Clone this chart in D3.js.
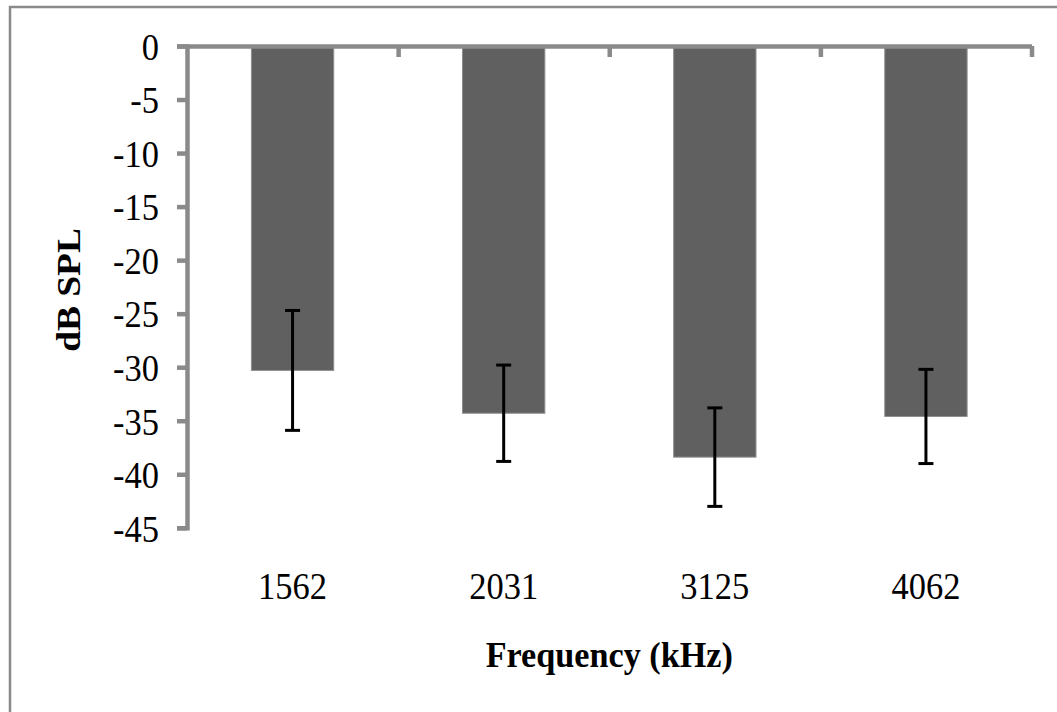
<!DOCTYPE html>
<html>
<head>
<meta charset="utf-8">
<script src="https://cdn.jsdelivr.net/npm/d3@7"></script>
<style>
  html, body { margin: 0; padding: 0; background: #ffffff; }
  svg { display: block; }
  text { font-family: "Liberation Serif", "Times New Roman", serif; fill: #000; }
</style>
</head>
<body>
<svg id="chart" width="1057" height="712"></svg>
<script>
// Mean response level per frequency (dB SPL) and error-bar half lengths
const frequencies = ["1562", "2031", "3125", "4062"];
const meanLevels  = [-30.3, -34.3, -38.4, -34.6];
const errors      = [5.6, 4.5, 4.6, 4.4];
const yTickValues = [0, -5, -10, -15, -20, -25, -30, -35, -40, -45];

const data = frequencies.map((f, i) => ({ f, v: meanLevels[i], e: errors[i] }));

const svg = d3.select("#chart");
const axisGray = "#8a8a8a";
const textStretch = "scale(1,1.12)";

// chart frame
svg.append("rect")
  .attr("x", 10).attr("y", 7)
  .attr("width", 1200).attr("height", 900)
  .attr("fill", "none")
  .attr("stroke", axisGray)
  .attr("stroke-width", 2.5);

const plotLeft = 187, plotRight = 1031.5, plotTop = 46, plotBottom = 527.8;

const y = d3.scaleLinear().domain([0, -45]).range([plotTop, plotBottom]);
const xCat = d3.scaleBand().domain(frequencies).range([plotLeft, plotRight]).padding(0);
const xBar = d3.scaleBand().domain(frequencies).range([plotLeft, plotRight])
  .paddingInner(0.61).paddingOuter(0.305);
const xEdge = d3.scaleLinear().domain([0, frequencies.length]).range([plotLeft, plotRight]);

// bars
svg.append("g").selectAll("rect")
  .data(data)
  .join("rect")
  .attr("x", d => xBar(d.f))
  .attr("width", xBar.bandwidth())
  .attr("y", y(0))
  .attr("height", d => y(d.v) - y(0))
  .attr("fill", "#606060")
  .attr("stroke", "#8e8e8e")
  .attr("stroke-width", 1);

// error bars
const eb = svg.append("g").attr("stroke", "#000");
data.forEach(d => {
  const cx = xBar(d.f) + xBar.bandwidth() / 2;
  const y1 = y(d.v + d.e), y2 = y(d.v - d.e);
  eb.append("line").attr("x1", cx).attr("x2", cx).attr("y1", y1).attr("y2", y2)
    .attr("stroke-width", 3);
  [y1, y2].forEach(yy => {
    eb.append("line").attr("x1", cx - 7.5).attr("x2", cx + 7.5)
      .attr("y1", yy).attr("y2", yy).attr("stroke-width", 3);
  });
});

// horizontal category axis along the zero line, with ticks at band edges
const xAxisG = svg.append("g")
  .attr("transform", `translate(0,${plotTop})`)
  .call(d3.axisBottom(xEdge)
    .tickValues(d3.range(1, frequencies.length + 1))
    .tickSize(11).tickSizeOuter(0).tickFormat(""));
xAxisG.selectAll("path, line").attr("stroke", axisGray).attr("stroke-width", 4.5);

// vertical value axis
const yAxisG = svg.append("g")
  .attr("transform", `translate(${plotLeft},0)`)
  .call(d3.axisLeft(y).tickValues(yTickValues)
    .tickSize(10).tickSizeOuter(10).tickFormat(d => String(d)));
yAxisG.selectAll("path, line").attr("stroke", axisGray).attr("stroke-width", 4.5);
yAxisG.selectAll("text")
  .attr("x", null).attr("dy", null)
  .attr("transform", `translate(-28,13.3) ${textStretch}`)
  .attr("font-family", "Liberation Serif")
  .attr("font-size", 34.5)
  .attr("fill", "#000");

// category labels
svg.append("g").selectAll("text")
  .data(frequencies)
  .join("text")
  .attr("transform", d => `translate(${xCat(d) + xCat.bandwidth() / 2},599.3) ${textStretch}`)
  .attr("text-anchor", "middle")
  .attr("font-size", 34.5)
  .text(d => d);

// axis titles
svg.append("text")
  .attr("transform", `translate(${(plotLeft + plotRight) / 2},666.7) scale(1,1.07)`)
  .attr("text-anchor", "middle")
  .attr("font-size", 34.2)
  .attr("font-weight", "bold")
  .text("Frequency (kHz)");

svg.append("text")
  .attr("transform", `translate(80,290) scale(1,1.1) rotate(-90)`)
  .attr("text-anchor", "middle")
  .attr("font-size", 34)
  .attr("font-weight", "bold")
  .text("dB SPL");
</script>
</body>
</html>
